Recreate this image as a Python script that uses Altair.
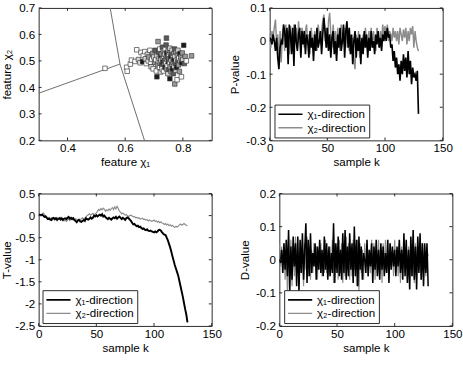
import altair as alt
import pandas as pd

FONT = "Liberation Sans"
LAB1 = "χ₁-direction"
LAB2 = "χ₂-direction"
W, H = 179, 137
TICK = 3
FRAME = "#262626"
GRAY = "#8c8c8c"

# ---------------- feature plane (chi1, chi2) ----------------
feat_x = [0.530, 0.605, 0.607, 0.618, 0.622, 0.634, 0.640, 0.646, 0.652, 0.655,
          0.660, 0.663, 0.668, 0.670, 0.673, 0.677, 0.680, 0.682, 0.686, 0.688,
          0.690, 0.692, 0.695, 0.697, 0.699, 0.702, 0.704, 0.706, 0.708, 0.710,
          0.710, 0.712, 0.714, 0.715, 0.716, 0.718, 0.719, 0.720, 0.721, 0.722,
          0.724, 0.725, 0.726, 0.727, 0.728, 0.729, 0.730, 0.731, 0.732, 0.733,
          0.734, 0.735, 0.736, 0.737, 0.738, 0.739, 0.740, 0.741, 0.742, 0.743,
          0.743, 0.744, 0.745, 0.746, 0.747, 0.748, 0.749, 0.750, 0.751, 0.752,
          0.753, 0.754, 0.755, 0.755, 0.756, 0.757, 0.758, 0.759, 0.760, 0.761,
          0.762, 0.763, 0.764, 0.765, 0.766, 0.767, 0.768, 0.769, 0.770, 0.771,
          0.772, 0.773, 0.774, 0.775, 0.776, 0.777, 0.778, 0.780, 0.781, 0.782,
          0.783, 0.785, 0.786, 0.788, 0.790, 0.791, 0.793, 0.795, 0.796, 0.798,
          0.800, 0.803, 0.805, 0.808, 0.812, 0.830]
feat_y = [0.472, 0.476, 0.461, 0.488, 0.503, 0.498, 0.542, 0.505, 0.493, 0.532,
          0.497, 0.520, 0.535, 0.508, 0.490, 0.525, 0.500, 0.515, 0.540, 0.495,
          0.478, 0.506, 0.528, 0.470, 0.515, 0.495, 0.540, 0.505, 0.462, 0.440,
          0.520, 0.485, 0.573, 0.500, 0.532, 0.510, 0.475, 0.545, 0.492, 0.458,
          0.515, 0.503, 0.527, 0.483, 0.470, 0.552, 0.508, 0.495, 0.538, 0.462,
          0.518, 0.488, 0.500, 0.525, 0.476, 0.545, 0.510, 0.493, 0.560, 0.586,
          0.470, 0.530, 0.505, 0.482, 0.515, 0.452, 0.540, 0.497, 0.522, 0.468,
          0.508, 0.490, 0.433, 0.548, 0.530, 0.478, 0.512, 0.460, 0.500, 0.525,
          0.487, 0.540, 0.470, 0.515, 0.495, 0.452, 0.528, 0.505, 0.480, 0.545,
          0.413, 0.518, 0.490, 0.465, 0.532, 0.502, 0.475, 0.429, 0.520, 0.497,
          0.540, 0.485, 0.510, 0.460, 0.528, 0.500, 0.515, 0.440, 0.493, 0.530,
          0.505, 0.559, 0.490, 0.517, 0.500, 0.519]
# fill shade of each marker: 0 white ... 4 black
feat_shade = [0, 0, 0, 0, 0, 0, 0, 1, 0, 0,
              4, 0, 0, 1, 0, 1, 0, 2, 0, 0,
              1, 0, 2, 0, 1, 2, 3, 0, 0, 4,
              1, 2, 2, 0, 3, 1, 0, 0, 2, 1,
              4, 0, 2, 3, 0, 3, 1, 4, 2, 0,
              0, 2, 3, 1, 4, 0, 2, 0, 3, 3,
              2, 4, 1, 0, 3, 1, 2, 4, 0, 3,
              2, 0, 4, 1, 2, 1, 4, 2, 0, 3,
              2, 0, 4, 1, 2, 3, 2, 4, 0, 3,
              2, 0, 3, 1, 2, 0, 4, 0, 2, 3,
              1, 2, 0, 2, 4, 1, 2, 0, 4, 2,
              1, 4, 3, 2, 0, 2]
shade_colors = ["#ffffff", "#d4d4d4", "#9a9a9a", "#5a5a5a", "#1a1a1a"]

# decision boundary polylines
bound_x = [0.300, 0.582, 0.548, 0.582, 0.667]
bound_y = [0.378, 0.488, 0.700, 0.488, 0.200]
bound_seg = ["a", "a", "b", "b", "b"]
bound_ord = [0, 1, 0, 1, 2]

# ---------------- sample sequences ----------------
k = list(range(130))

p_chi1 = [0.01, 0.005, -0.01, 0.02, 0.0, -0.03, 0.01, -0.05, -0.085, -0.02,
          0.0, -0.01, 0.05, 0.03, -0.02, 0.04, -0.07, 0.05, 0.02, -0.04,
          0.04, -0.075, 0.05, 0.0, -0.03, 0.02, 0.04, -0.05, 0.03, -0.01,
          0.03, -0.04, 0.02, 0.0, -0.05, 0.03, -0.02, 0.01, -0.06, 0.02,
          -0.03, 0.04, -0.02, 0.0, 0.03, -0.04, 0.02, 0.07, 0.03, -0.02,
          0.04, -0.03, 0.02, -0.05, 0.01, 0.03, -0.04, 0.0, -0.06, 0.02,
          -0.02, 0.04, -0.03, 0.0, 0.05, -0.05, 0.03, 0.06, -0.02, 0.04,
          -0.04, 0.02, -0.07, 0.0, 0.03, -0.05, 0.01, -0.03, 0.02, -0.07,
          0.01, -0.04, 0.03, -0.02, 0.02, -0.05, 0.01, -0.03, 0.03, -0.02,
          0.0, -0.04, 0.02, -0.01, 0.03, -0.02, 0.01, -0.03, 0.02, 0.0,
          0.03, 0.0, 0.04, 0.01, 0.02, -0.02, -0.01, -0.06, -0.03, -0.08,
          -0.05, -0.1, -0.07, -0.12, -0.06, -0.1, -0.04, -0.09, -0.05, -0.11,
          -0.03, -0.1, -0.06, -0.13, -0.08, -0.11, -0.1, -0.12, -0.09, -0.22]
p_chi2 = [0.02, -0.02, 0.03, 0.01, 0.04, 0.065, -0.01, 0.02, -0.06, 0.03,
          -0.065, 0.02, 0.04, -0.03, 0.05, 0.0, 0.03, -0.04, 0.045, 0.01,
          -0.03, 0.05, 0.0, 0.04, -0.02, 0.06, 0.01, -0.03, 0.04, 0.02,
          -0.02, 0.03, 0.05, -0.01, 0.02, -0.04, 0.04, 0.0, -0.02, 0.03,
          0.01, -0.03, 0.05, 0.02, -0.01, 0.03, 0.06, 0.08, 0.0, 0.04,
          -0.02, 0.06, 0.085, 0.02, -0.02, 0.05, 0.0, 0.03, -0.04, 0.04,
          0.0, -0.03, 0.05, 0.02, -0.01, 0.04, -0.02, 0.05, 0.03, -0.03,
          0.02, -0.04, 0.01, -0.06, -0.085, 0.02, -0.03, 0.03, -0.05, 0.0,
          -0.03, 0.02, -0.02, 0.04, 0.0, -0.03, 0.03, 0.0, 0.04, -0.02,
          0.03, 0.0, -0.03, 0.04, 0.01, -0.02, 0.03, 0.0, 0.05, 0.02,
          0.045, 0.01, 0.05, 0.0, 0.03, 0.02, 0.0, 0.04, 0.01, 0.03,
          0.0, 0.03, -0.01, 0.04, 0.02, 0.0, 0.035, 0.01, 0.04, -0.01,
          0.03, 0.0, 0.04, 0.02, 0.045, -0.02, 0.03, 0.0, -0.02, -0.03]

t_chi1 = [0.02, 0.02, 0.01, 0.02, 0.0, -0.03, -0.02, -0.05, -0.08, -0.07,
          -0.09, -0.1, -0.06, -0.05, -0.08, -0.06, -0.1, -0.07, -0.06, -0.09,
          -0.06, -0.1, -0.07, -0.06, -0.08, -0.05, -0.03, -0.07, -0.05, -0.08,
          -0.06, -0.1, -0.12, -0.15, -0.11, -0.1, -0.13, -0.14, -0.12, -0.1,
          -0.12, -0.06, -0.08, -0.09, -0.07, -0.04, -0.07, -0.05, 0.0, -0.02,
          0.01, -0.02, 0.0, 0.02, 0.0, 0.03, -0.02, 0.0, -0.04, -0.06,
          -0.08, -0.05, -0.07, -0.09, -0.06, -0.04, -0.06, -0.03, -0.07, -0.04,
          -0.02, -0.05, -0.08, -0.05, -0.07, -0.1, -0.06, -0.04, -0.06, -0.09,
          -0.12, -0.16, -0.2, -0.19, -0.22, -0.24, -0.23, -0.26, -0.25, -0.28,
          -0.3, -0.29, -0.32, -0.33, -0.31, -0.34, -0.35, -0.34, -0.36, -0.37,
          -0.38, -0.36, -0.38, -0.36, -0.33, -0.32, -0.34, -0.38, -0.41, -0.43,
          -0.44, -0.5, -0.56, -0.64, -0.72, -0.82, -0.92, -1.02, -1.12, -1.2,
          -1.28, -1.36, -1.48, -1.6, -1.72, -1.84, -1.98, -2.12, -2.24, -2.42]
t_chi2 = [0.0, 0.02, 0.0, 0.03, 0.06, 0.02, 0.0, -0.03, -0.06, -0.04,
          -0.07, -0.05, -0.09, -0.06, -0.1, -0.07, -0.05, -0.08, -0.06, -0.04,
          -0.07, -0.09, -0.12, -0.1, -0.13, -0.1, -0.08, -0.11, -0.07, -0.05,
          -0.08, -0.1, -0.07, -0.09, -0.11, -0.08, -0.1, -0.07, -0.05, -0.08,
          -0.06, -0.03, 0.0, 0.02, 0.04, 0.01, 0.03, 0.05, 0.02, 0.04,
          0.06, 0.1, 0.14, 0.12, 0.16, 0.13, 0.17, 0.14, 0.1, 0.13,
          0.11, 0.15, 0.12, 0.16, 0.18, 0.14, 0.2, 0.15, 0.21, 0.16,
          0.1, 0.08, 0.04, 0.06, 0.03, 0.01, 0.02, 0.0, -0.02, 0.0,
          0.01, -0.01, -0.03, -0.02, -0.05, -0.04, -0.06, -0.05, -0.08, -0.07,
          -0.06, -0.09, -0.08, -0.1, -0.09, -0.12, -0.1, -0.11, -0.13, -0.12,
          -0.1, -0.13, -0.12, -0.15, -0.13, -0.16, -0.14, -0.17, -0.18, -0.2,
          -0.18, -0.21, -0.19, -0.23, -0.21, -0.24, -0.22, -0.25, -0.27, -0.24,
          -0.26, -0.24, -0.21, -0.19, -0.22, -0.2, -0.18, -0.2, -0.22, -0.23]

d_chi1 = [0.0, -0.01, 0.03, -0.04, 0.05, -0.03, 0.06, -0.05, 0.09, -0.1,
          0.04, -0.06, 0.07, -0.02, 0.05, -0.08, 0.07, -0.1, 0.06, -0.04,
          0.08, -0.06, 0.03, 0.11, -0.07, 0.06, -0.05, 0.08, -0.04, 0.02,
          -0.02, 0.05, -0.06, 0.04, -0.03, 0.06, -0.04, 0.03, -0.05, 0.07,
          -0.03, 0.05, -0.06, 0.04, -0.05, 0.02, -0.04, 0.11, -0.07, 0.05,
          -0.04, 0.07, -0.05, 0.03, -0.06, 0.08, -0.04, 0.09, -0.06, 0.04,
          -0.05, 0.08, -0.03, 0.05, -0.07, 0.1, -0.05, 0.06, -0.08, 0.07,
          -0.03, 0.04, -0.06, 0.02, 0.0, -0.04, 0.06, -0.05, 0.03, -0.02,
          0.05, -0.07, 0.04, -0.03, 0.06, -0.05, 0.03, -0.06, 0.05, -0.03,
          0.04, -0.05, 0.02, -0.04, 0.06, -0.07, 0.05, -0.03, 0.04, -0.02,
          0.03, -0.05, 0.04, -0.02, 0.06, -0.04, 0.03, -0.06, 0.08, -0.05,
          0.06, -0.07, 0.03, -0.09, 0.07, -0.05, 0.09, -0.06, 0.04, -0.09,
          0.07, -0.04, 0.08, -0.06, 0.05, -0.08, 0.05, -0.04, 0.05, -0.08]
d_chi2 = [0.05, -0.02, 0.04, -0.03, 0.05, -0.06, 0.02, -0.1, 0.07, -0.04,
          0.06, -0.08, 0.04, -0.05, 0.07, -0.04, 0.03, -0.06, 0.05, -0.02,
          0.06, -0.08, 0.05, -0.03, 0.07, -0.05, 0.04, -0.06, 0.03, -0.04,
          0.05, -0.02, 0.04, -0.06, 0.03, -0.03, 0.05, -0.05, 0.02, -0.04,
          0.06, -0.04, 0.03, -0.05, 0.04, -0.03, 0.06, -0.07, 0.05, -0.02,
          0.04, -0.06, 0.06, -0.04, 0.05, -0.07, 0.03, -0.05, 0.07, -0.03,
          0.05, -0.06, 0.04, -0.05, 0.06, -0.03, 0.04, -0.08, 0.06, -0.1,
          0.05, -0.04, 0.03, -0.06, 0.05, -0.02, 0.04, -0.05, 0.03, -0.04,
          0.06, -0.03, 0.05, -0.06, 0.04, -0.04, 0.06, -0.05, 0.03, -0.07,
          0.05, -0.03, 0.06, -0.04, 0.03, -0.06, 0.05, -0.02, 0.04, -0.05,
          0.06, -0.04, 0.03, -0.05, 0.05, -0.07, 0.04, -0.03, 0.06, -0.04,
          0.05, -0.06, 0.04, -0.03, 0.06, -0.05, 0.03, -0.07, 0.05, -0.04,
          0.06, -0.03, 0.04, -0.06, 0.05, -0.02, 0.04, -0.05, 0.03, 0.01]

# axis tick positions
k_ticks = [0, 50, 100, 150]
fx_ticks = [0.4, 0.6, 0.8]
fy_ticks = [0.2, 0.3, 0.4, 0.5, 0.6, 0.7]
p_ticks = [-0.3, -0.2, -0.1, 0, 0.1]
t_ticks = [-2.5, -2, -1.5, -1, -0.5, 0, 0.5]
d_ticks = [-0.2, -0.1, 0, 0.1, 0.2]

LABEL_EXPR = "'' + datum.value"


def x_axis(values, title):
    return alt.Axis(values=values, title=title, grid=False, ticks=False, tickSize=0,
                    domain=False, labelPadding=3, titlePadding=3, labelFlush=False,
                    labelOverlap=False, labelSeparation=0, labelExpr=LABEL_EXPR)


def y_axis(values, title, extent, tpad):
    return alt.Axis(values=values, title=title, grid=False, ticks=False, tickSize=0,
                    domain=False, labelPadding=4, minExtent=extent, maxExtent=extent,
                    titlePadding=tpad, labelFlush=False, labelOverlap=False,
                    labelSeparation=0, labelExpr=LABEL_EXPR)


def inner_ticks(xvals, yvals, xs, ys, xf, yf, xax, yax):
    """MATLAB-style ticks pointing into the box on all four sides."""
    xt = pd.DataFrame({xf: xvals})
    yt = pd.DataFrame({yf: yvals})
    style = dict(color=FRAME, strokeWidth=1)
    xenc = alt.X(f"{xf}:Q", scale=xs, axis=xax)
    yenc = alt.Y(f"{yf}:Q", scale=ys, axis=yax)
    return [
        alt.Chart(xt).mark_rule(**style).encode(x=xenc, y=alt.value(H), y2=alt.value(H - TICK)),
        alt.Chart(xt).mark_rule(**style).encode(x=xenc, y=alt.value(0), y2=alt.value(TICK)),
        alt.Chart(yt).mark_rule(**style).encode(y=yenc, x=alt.value(0), x2=alt.value(TICK)),
        alt.Chart(yt).mark_rule(**style).encode(y=yenc, x=alt.value(W), x2=alt.value(W - TICK)),
    ]


def series_legend(lx, ly):
    return alt.Legend(title=None, orient="none", legendX=lx, legendY=ly,
                      strokeColor=FRAME, fillColor="white", padding=3, cornerRadius=0,
                      symbolType="stroke", symbolSize=625, clipHeight=14,
                      labelFontSize=12, labelFont=FONT, labelColor="black",
                      rowPadding=0, labelOffset=4, labelLimit=300)


def sequence_panel(a, b, yvals, ydom, ytitle, widths, lx, ly, extent, tpad):
    df = pd.DataFrame({"k": k + k, "v": a + b,
                       "series": [LAB1] * len(a) + [LAB2] * len(b)})
    xs = alt.Scale(domain=[0, 150], nice=False, zero=False)
    ys = alt.Scale(domain=ydom, nice=False, zero=False)
    xax = x_axis(k_ticks, "sample k")
    yax = y_axis(yvals, ytitle, extent, tpad)
    color = alt.Color("series:N",
                      scale=alt.Scale(domain=[LAB1, LAB2], range=["black", GRAY]),
                      legend=series_legend(lx, ly))
    swidth = alt.StrokeWidth("series:N",
                             scale=alt.Scale(domain=[LAB1, LAB2], range=widths),
                             legend=series_legend(lx, ly))
    enc = dict(x=alt.X("k:Q", scale=xs, axis=xax),
               y=alt.Y("v:Q", scale=ys, axis=yax),
               color=color, strokeWidth=swidth)
    base = alt.Chart(df)
    # grey series underneath, black series on top
    gray_line = base.transform_filter(alt.datum.series == LAB2).mark_line(clip=True).encode(**enc)
    black_line = base.transform_filter(alt.datum.series == LAB1).mark_line(clip=True).encode(**enc)
    return alt.layer(gray_line, black_line,
                     *inner_ticks(k_ticks, yvals, xs, ys, "k", "v", xax, yax)).properties(
        width=W, height=H)


# ---- panel 1: feature plane ----
fxs = alt.Scale(domain=[0.3, 0.9], nice=False, zero=False)
fys = alt.Scale(domain=[0.2, 0.7], nice=False, zero=False)
fxax = x_axis(fx_ticks, "feature χ₁")
fyax = y_axis(fy_ticks, "feature χ₂", 21, 5)
feat_df = pd.DataFrame({"x": feat_x, "y": feat_y, "shade": feat_shade})
bound_df = pd.DataFrame({"x": bound_x, "y": bound_y, "seg": bound_seg, "o": bound_ord})

boundary = alt.Chart(bound_df).mark_line(color="#6a6a6a", strokeWidth=1, clip=True).encode(
    x=alt.X("x:Q", scale=fxs, axis=fxax),
    y=alt.Y("y:Q", scale=fys, axis=fyax),
    detail="seg:N", order="o:Q")
points = alt.Chart(feat_df).mark_square(size=22, stroke="#3a3a3a", strokeWidth=0.7,
                                        opacity=1, clip=True).encode(
    x=alt.X("x:Q", scale=fxs, axis=fxax),
    y=alt.Y("y:Q", scale=fys, axis=fyax),
    fill=alt.Fill("shade:O", scale=alt.Scale(domain=[0, 1, 2, 3, 4], range=shade_colors),
                  legend=None))
p1 = alt.layer(boundary, points,
               *inner_ticks(fx_ticks, fy_ticks, fxs, fys, "x", "y", fxax, fyax)).properties(
    width=W, height=H)

# ---- panels 2-4: sequences over samples ----
p2 = sequence_panel(p_chi1, p_chi2, p_ticks, [-0.3, 0.1], "P-value", [1.7, 1.5], 5, 100, 25, 4)
p3 = sequence_panel(t_chi1, t_chi2, t_ticks, [-2.5, 0.5], "T-value", [2.0, 1.2], 4, 100, 25, 1)
p4 = sequence_panel(d_chi1, d_chi2, d_ticks, [-0.2, 0.2], "D-value", [1.6, 1.2], 5, 100, 25, 4)

indep = dict(color="independent", strokeWidth="independent", fill="independent")
row1 = alt.hconcat(p1, p2, spacing=16).resolve_legend(**indep).resolve_scale(**indep)
row2 = alt.hconcat(p3, p4, spacing=16).resolve_legend(**indep).resolve_scale(**indep)

chart = alt.vconcat(row1, row2, spacing=19).resolve_legend(**indep).resolve_scale(
    **indep
).properties(
    padding={"left": 0, "top": -5, "right": 0, "bottom": 0}
).configure_view(
    stroke=FRAME, strokeWidth=1
).configure_axis(
    labelFont=FONT, titleFont=FONT, labelFontSize=12, titleFontSize=12,
    titleFontWeight="normal", labelColor="black", titleColor="black",
    labelOverlap=False, labelSeparation=0
).configure_legend(
    labelFont=FONT
)

chart.save("out.html", embed_options={"renderer": "svg", "actions": False})
